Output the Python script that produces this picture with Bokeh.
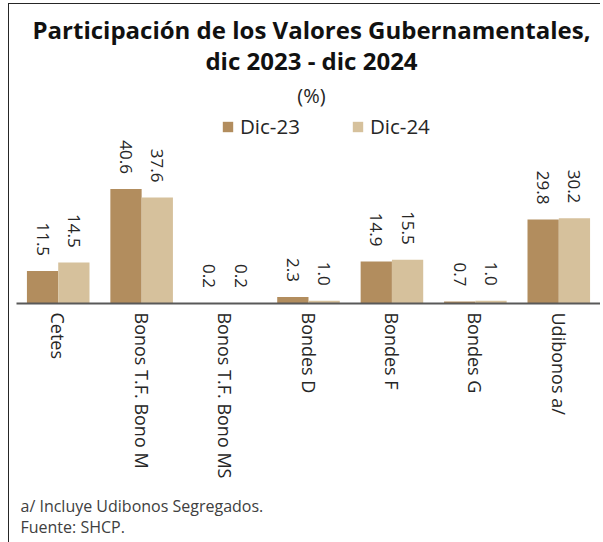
import math
from bokeh.plotting import figure
from bokeh.models import ColumnDataSource, FactorRange, Label, Legend, LegendItem, Title
from bokeh.transform import dodge
from bokeh.core.properties import value
from bokeh.embed import file_html
from bokeh.resources import INLINE

categories = ["Cetes", "Bonos T.F. Bono M", "Bonos T.F. Bono MS", "Bondes D",
              "Bondes F", "Bondes G", "Udibonos a/"]
dic23 = [11.5, 40.6, 0.2, 2.3, 14.9, 0.7, 29.8]
dic24 = [14.5, 37.6, 0.2, 1.0, 15.5, 1.0, 30.2]
series_names = ["Dic-23", "Dic-24"]
title_lines = ["Participación de los Valores Gubernamentales,", "dic 2023 - dic 2024"]
unit_text = "(%)"
notes = ["a/ Incluye Udibonos Segregados.", "Fuente: SHCP."]

C23 = "#B28D5E"
C24 = "#D6C19C"
FONT = "Open Sans"
TXT = "#262626"

src = ColumnDataSource(dict(
    cat=categories, d23=dic23, d24=dic24,
    l23=["{:.1f}".format(v) for v in dic23],
    l24=["{:.1f}".format(v) for v in dic24],
))

p = figure(frame_width=584, frame_height=299,
           x_range=FactorRange(factors=categories, range_padding=0),
           y_range=(0, 106.0), y_axis_location=None, output_backend="svg",
           toolbar_location=None, min_border_left=7, min_border_right=0,
           min_border_top=0, min_border_bottom=0)
p.outline_line_color = None
p.xgrid.visible = False
p.ygrid.visible = False
p.background_fill_color = "white"
p.border_fill_color = "white"

bw = 0.375
r23 = p.vbar(x=dodge("cat", -bw / 2, range=p.x_range), top="d23", width=bw, bottom=0,
             source=src, fill_color=C23, line_color=None)
r24 = p.vbar(x=dodge("cat", bw / 2, range=p.x_range), top="d24", width=bw, bottom=0,
             source=src, fill_color=C24, line_color=None)

for col, lab, off in (("d23", "l23", -bw / 2), ("d24", "l24", bw / 2)):
    p.text(x=dodge("cat", off, range=p.x_range), y=col, text=lab, source=src,
           angle=-math.pi / 2, text_align="right", text_baseline="middle",
           y_offset=-15, text_font=value(FONT), text_font_size="17px",
           text_color=TXT)

ax = p.xaxis[0]
ax.axis_line_color = "#595959"
ax.axis_line_width = 2
ax.major_tick_line_color = None
ax.minor_tick_line_color = None
ax.major_label_orientation = -math.pi / 2
ax.major_label_standoff = 3
ax.major_label_text_font = FONT
ax.major_label_text_font_size = "18px"
ax.major_label_text_color = TXT

# titles (screen units relative to the frame's bottom-left)
cx = 295
p.add_layout(Label(x=cx, y=274, x_units="screen", y_units="screen", text=title_lines[0],
                   text_align="center", text_baseline="middle", text_font=FONT,
                   text_font_size="24px", text_font_style="bold", text_color="#111111"))
p.add_layout(Label(x=cx, y=243, x_units="screen", y_units="screen", text=title_lines[1],
                   text_align="center", text_baseline="middle", text_font=FONT,
                   text_font_size="24px", text_font_style="bold", text_color="#111111"))
p.add_layout(Label(x=cx, y=208, x_units="screen", y_units="screen", text=unit_text,
                   text_align="center", text_baseline="middle", text_font=FONT,
                   text_font_size="20px", text_color=TXT))

legend = Legend(items=[LegendItem(label=series_names[0], renderers=[r23]),
                       LegendItem(label=series_names[1], renderers=[r24])],
                location=(205, 163), orientation="horizontal", padding=0, margin=0,
                spacing=51, glyph_width=13, glyph_height=13, label_standoff=6,
                label_text_font=FONT, label_text_font_size="20.5px",
                label_text_color=TXT, border_line_color=None,
                background_fill_alpha=0)
p.add_layout(legend, "center")

notes_title = Title(text=notes[0] + "\n" + notes[1], align="left", offset=4, standoff=23,
                    text_font=FONT, text_font_size="16px", text_font_style="normal",
                    text_line_height=0.96, text_color="#404040")
p.add_layout(notes_title, "below")

p.styles = {"margin-left": "8px", "margin-top": "3px",
            "border-left": "1px solid #262626", "border-top": "1px solid #262626"}

open("out.html", "w").write(file_html(p, INLINE))
